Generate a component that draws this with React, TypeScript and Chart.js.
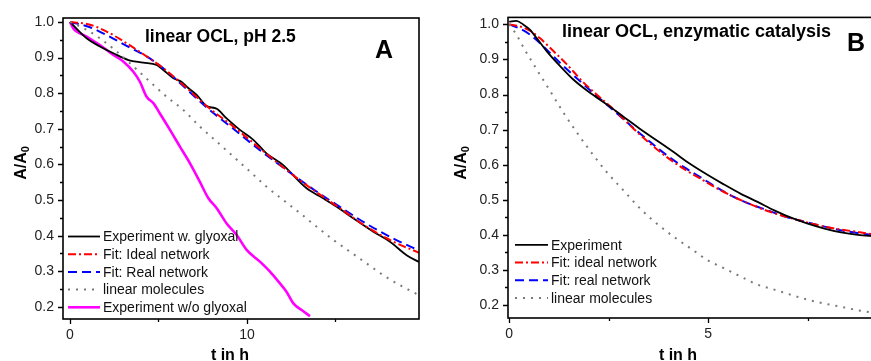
import React, { useEffect, useRef } from 'react';
import { Chart, registerables } from 'chart.js';

Chart.register(...registerables);

// ---------- Panel A: linear OCL, pH 2.5 ----------
const aGlyoxalT = [0, 0.94, 1.69, 2.45, 3.3, 4.14, 4.9, 5.27, 5.84, 6.3, 6.6, 7.16, 7.72, 8.29, 8.85, 9.6, 10.36, 11.1, 12.05, 12.6, 13.37, 14.3, 15.07, 16.0, 17.14, 18.08, 19.02, 19.72];
const aGlyoxalA = [1.0, 0.954, 0.931, 0.912, 0.893, 0.886, 0.879, 0.865, 0.842, 0.832, 0.818, 0.795, 0.764, 0.756, 0.729, 0.697, 0.669, 0.631, 0.598, 0.57, 0.533, 0.505, 0.481, 0.449, 0.411, 0.383, 0.345, 0.326];

const aIdealT = [0, 1.13, 2.07, 3.2, 4.33, 5.27, 6.4, 7.72, 9.23, 10.73, 12.24, 13.75, 15.25, 16.76, 18.27, 19.72];
const aIdealA = [1.0, 0.992, 0.973, 0.94, 0.903, 0.87, 0.823, 0.764, 0.706, 0.645, 0.584, 0.528, 0.477, 0.425, 0.383, 0.352];

const aRealT = [0, 1.13, 2.07, 3.2, 4.33, 5.27, 6.4, 7.72, 9.23, 10.73, 12.24, 13.75, 15.25, 16.76, 18.27, 19.72];
const aRealA = [1.0, 0.985, 0.963, 0.933, 0.903, 0.87, 0.82, 0.76, 0.7, 0.64, 0.584, 0.53, 0.481, 0.433, 0.392, 0.358];

const aLinearT = [0, 0.94, 1.69, 2.64, 3.58, 4.52, 5.46, 6.4, 7.34, 8.29, 9.23, 10.17, 11.11, 12.05, 13.0, 13.94, 14.88, 15.82, 16.76, 17.7, 18.64, 19.72];
const aLinearA = [1.0, 0.978, 0.954, 0.917, 0.875, 0.832, 0.79, 0.753, 0.706, 0.664, 0.622, 0.58, 0.537, 0.5, 0.463, 0.425, 0.388, 0.355, 0.322, 0.289, 0.261, 0.233];

const aNoGlyoxalT = [0, 0.19, 0.94, 1.69, 2.45, 3.01, 3.58, 3.95, 4.33, 4.71, 5.08, 5.65, 6.21, 6.78, 7.34, 7.82, 8.29, 8.85, 9.42, 9.98, 10.73, 11.3, 11.86, 12.24, 12.62, 13.09, 13.56];
const aNoGlyoxalA = [1.0, 0.982, 0.959, 0.935, 0.907, 0.889, 0.86, 0.832, 0.79, 0.772, 0.743, 0.697, 0.65, 0.603, 0.551, 0.505, 0.477, 0.434, 0.402, 0.36, 0.327, 0.299, 0.266, 0.242, 0.21, 0.191, 0.174];

// ---------- Panel B: linear OCL, enzymatic catalysis ----------
const bExpT = [0, 0.18, 0.35, 0.52, 0.69, 0.94, 1.28, 1.61, 2.03, 2.45, 2.87, 3.29, 3.71, 4.13, 4.55, 4.97, 5.39, 5.82, 6.24, 6.66, 7.08, 7.5, 7.92, 8.34, 8.76, 9.19];
const bExpA = [1.008, 1.01, 1.0, 0.985, 0.961, 0.924, 0.881, 0.843, 0.805, 0.772, 0.737, 0.702, 0.669, 0.636, 0.602, 0.572, 0.544, 0.517, 0.494, 0.47, 0.449, 0.432, 0.418, 0.407, 0.4, 0.396];

const bIdealT = [0, 0.27, 0.52, 0.77, 1.11, 1.45, 1.87, 2.29, 2.71, 3.13, 3.55, 3.97, 4.39, 4.81, 5.23, 5.65, 6.07, 6.49, 6.91, 7.33, 7.75, 8.17, 8.59, 9.19];
const bIdealA = [1.0, 0.994, 0.982, 0.961, 0.924, 0.886, 0.834, 0.791, 0.749, 0.702, 0.659, 0.621, 0.588, 0.56, 0.532, 0.508, 0.487, 0.468, 0.453, 0.44, 0.428, 0.418, 0.411, 0.401];

const bRealT = [0, 0.27, 0.52, 0.77, 1.11, 1.45, 1.87, 2.29, 2.71, 3.13, 3.55, 3.97, 4.39, 4.81, 5.23, 5.65, 6.07, 6.49, 6.91, 7.33, 7.75, 8.17, 8.59, 9.19];
const bRealA = [1.0, 0.988, 0.971, 0.947, 0.909, 0.872, 0.829, 0.787, 0.746, 0.704, 0.664, 0.626, 0.593, 0.564, 0.534, 0.508, 0.487, 0.47, 0.453, 0.44, 0.428, 0.417, 0.408, 0.399];

const bLinearT = [0, 0.18, 0.39, 0.69, 1.03, 1.36, 1.7, 2.03, 2.45, 2.87, 3.29, 3.71, 4.13, 4.55, 4.97, 5.39, 5.82, 6.24, 6.66, 7.08, 7.5, 7.92, 8.34, 8.76, 9.19];
const bLinearA = [1.0, 0.971, 0.928, 0.872, 0.81, 0.749, 0.692, 0.64, 0.579, 0.527, 0.475, 0.432, 0.395, 0.362, 0.329, 0.305, 0.281, 0.258, 0.244, 0.229, 0.215, 0.204, 0.195, 0.185, 0.177];

// ---------- Ticks and labels ----------
const yMajorTicks = [0.2, 0.3, 0.4, 0.5, 0.6, 0.7, 0.8, 0.9, 1.0];
const yMinorTicks = [0.25, 0.35, 0.45, 0.55, 0.65, 0.75, 0.85, 0.95];
const aXMajorTicks = [0, 10];
const aXMinorTicks = [5, 15];
const bXMajorTicks = [0, 5];
const bXMinorTicks = [2.5, 7.5];

const aTitle = 'linear OCL, pH 2.5';
const bTitle = 'linear OCL, enzymatic catalysis';
const aLetter = 'A';
const bLetter = 'B';
const xAxisTitle = 't in h';
const yAxisMain = 'A/A';
const yAxisSub = '0';

const aLabels = ['Experiment w. glyoxal', 'Fit: Ideal network', 'Fit: Real network', 'linear molecules', 'Experiment w/o glyoxal'];
const bLabels = ['Experiment', 'Fit: ideal network', 'Fit: real network', 'linear molecules'];

const FONT = '"Liberation Sans", Arial, Helvetica, sans-serif';

type Style = { color: string; width: number; dash: number[] };
const sBlack: Style = { color: '#000000', width: 1.8, dash: [] };
const sRed: Style = { color: '#ff0000', width: 2, dash: [8, 3, 2, 3] };
const sBlue: Style = { color: '#0000ff', width: 2, dash: [9, 5] };
const sGray: Style = { color: '#7a7a7a', width: 2, dash: [2, 6] };
const sMagenta: Style = { color: '#ff00ff', width: 2.6, dash: [] };

function pts(t: number[], a: number[]) {
  return t.map((x, i) => ({ x, y: a[i] }));
}

function ds(label: string, t: number[], a: number[], s: Style) {
  return {
    label,
    data: pts(t, a),
    borderColor: s.color,
    backgroundColor: s.color,
    borderWidth: s.width,
    borderDash: s.dash,
    pointRadius: 0,
    fill: false,
    cubicInterpolationMode: 'monotone' as const,
  };
}

type PanelSpec = {
  left: number;
  width: number;
  yAxisWidth: number;
  xAxisHeight: number;
  padTop: number;
  padRight: number;
  xMin: number;
  xMax: number;
  yMin: number;
  yMax: number;
  xMajor: number[];
  xMinor: number[];
  datasets: any[];
  legendOrder: number[];
  legendLineX0: number;
  legendLineX1: number;
  legendTextX: number;
  legendLastY: number;
  title: string;
  titleX: number;
  titleY: number;
  titleSize: number;
  letter: string;
  letterX: number;
  letterY: number;
  yTitleX: number;
  yTitleY: number;
  xTitleX: number;
  xTitleY: number;
};

const panelA: PanelSpec = {
  left: 0,
  width: 435,
  yAxisWidth: 63,
  xAxisHeight: 42,
  padTop: 18,
  padRight: 16,
  xMin: -0.395,
  xMax: 19.72,
  yMin: 0.166,
  yMax: 1.011,
  xMajor: aXMajorTicks,
  xMinor: aXMinorTicks,
  datasets: [
    ds(aLabels[3], aLinearT, aLinearA, sGray),
    ds(aLabels[1], aIdealT, aIdealA, sRed),
    ds(aLabels[2], aRealT, aRealA, sBlue),
    ds(aLabels[0], aGlyoxalT, aGlyoxalA, sBlack),
    ds(aLabels[4], aNoGlyoxalT, aNoGlyoxalA, sMagenta),
  ],
  legendOrder: [3, 1, 2, 0, 4],
  legendLineX0: 5,
  legendLineX1: 37,
  legendTextX: 40,
  legendLastY: -11.7,
  title: aTitle,
  titleX: 82,
  titleY: 24,
  titleSize: 17.5,
  letter: aLetter,
  letterX: 312,
  letterY: 40,
  yTitleX: -43,
  yTitleY: 163,
  xTitleX: 230,
  xTitleY: 360,
};

const panelB: PanelSpec = {
  left: 440,
  width: 440,
  yAxisWidth: 68,
  xAxisHeight: 43,
  padTop: 16,
  padRight: 5,
  xMin: -0.03,
  xMax: 9.19,
  yMin: 0.163,
  yMax: 1.02,
  xMajor: bXMajorTicks,
  xMinor: bXMinorTicks,
  datasets: [
    ds(bLabels[3], bLinearT, bLinearA, sGray),
    ds(bLabels[0], bExpT, bExpA, sBlack),
    ds(bLabels[1], bIdealT, bIdealA, sRed),
    ds(bLabels[2], bRealT, bRealA, sBlue),
  ],
  legendOrder: [1, 2, 3, 0],
  legendLineX0: 7,
  legendLineX1: 40,
  legendTextX: 43,
  legendLastY: -20,
  title: bTitle,
  titleX: 54,
  titleY: 20,
  titleSize: 18,
  letter: bLetter,
  letterX: 339,
  letterY: 34,
  yTitleX: -48,
  yTitleY: 163,
  xTitleX: 238,
  xTitleY: 360,
};

function makeDecor(spec: PanelSpec) {
  return {
    id: 'decor',
    afterDraw(chart: any) {
      const ctx: CanvasRenderingContext2D = chart.ctx;
      const ca = chart.chartArea;
      const xs = chart.scales.x;
      const ys = chart.scales.y;
      ctx.save();
      // frame
      ctx.strokeStyle = '#000';
      ctx.lineWidth = 1.6;
      ctx.setLineDash([]);
      ctx.strokeRect(ca.left, ca.top, ca.right - ca.left, ca.bottom - ca.top);
      // ticks
      ctx.lineWidth = 1.3;
      ctx.beginPath();
      yMajorTicks.forEach((v) => {
        const y = Math.round(ys.getPixelForValue(v)) + 0.5;
        ctx.moveTo(ca.left - 5, y);
        ctx.lineTo(ca.left, y);
      });
      yMinorTicks.forEach((v) => {
        const y = Math.round(ys.getPixelForValue(v)) + 0.5;
        ctx.moveTo(ca.left - 3, y);
        ctx.lineTo(ca.left, y);
      });
      spec.xMajor.forEach((v) => {
        const x = Math.round(xs.getPixelForValue(v)) + 0.5;
        ctx.moveTo(x, ca.bottom);
        ctx.lineTo(x, ca.bottom + 5);
      });
      spec.xMinor.forEach((v) => {
        const x = Math.round(xs.getPixelForValue(v)) + 0.5;
        ctx.moveTo(x, ca.bottom);
        ctx.lineTo(x, ca.bottom + 3);
      });
      ctx.stroke();

      // legend
      const n = spec.legendOrder.length;
      ctx.font = `14px ${FONT}`;
      ctx.textBaseline = 'middle';
      ctx.textAlign = 'left';
      spec.legendOrder.forEach((di, i) => {
        const d = chart.data.datasets[di];
        const y = ca.bottom + spec.legendLastY - (n - 1 - i) * 17.7;
        ctx.strokeStyle = d.borderColor;
        ctx.lineWidth = d.borderWidth;
        ctx.setLineDash(d.borderDash || []);
        ctx.beginPath();
        ctx.moveTo(ca.left + spec.legendLineX0, y);
        ctx.lineTo(ca.left + spec.legendLineX1, y);
        ctx.stroke();
        ctx.setLineDash([]);
        ctx.fillStyle = '#111';
        ctx.fillText(d.label, ca.left + spec.legendTextX, y + 1);
      });

      // panel title and letter
      ctx.fillStyle = '#000';
      ctx.textBaseline = 'alphabetic';
      ctx.font = `bold ${spec.titleSize}px ${FONT}`;
      ctx.fillText(spec.title, ca.left + spec.titleX, ca.top + spec.titleY);
      ctx.font = `bold 25px ${FONT}`;
      ctx.fillText(spec.letter, ca.left + spec.letterX, ca.top + spec.letterY);

      // x axis title
      ctx.font = `bold 16px ${FONT}`;
      ctx.textAlign = 'center';
      ctx.fillText(xAxisTitle, spec.xTitleX, spec.xTitleY);

      // y axis title with subscript
      ctx.save();
      ctx.translate(ca.left + spec.yTitleX, spec.yTitleY);
      ctx.rotate(-Math.PI / 2);
      ctx.textAlign = 'left';
      ctx.font = `bold 16px ${FONT}`;
      const w1 = ctx.measureText(yAxisMain).width;
      ctx.font = `bold 11px ${FONT}`;
      const w2 = ctx.measureText(yAxisSub).width;
      const x0 = -(w1 + w2) / 2;
      ctx.font = `bold 16px ${FONT}`;
      ctx.fillText(yAxisMain, x0, 6);
      ctx.font = `bold 11px ${FONT}`;
      ctx.fillText(yAxisSub, x0 + w1, 9);
      ctx.restore();

      ctx.restore();
    },
  };
}

function Panel({ spec }: { spec: PanelSpec }) {
  const ref = useRef<HTMLCanvasElement>(null);
  useEffect(() => {
    if (!ref.current) return;
    const chart = new Chart(ref.current, {
      type: 'line',
      data: { datasets: spec.datasets },
      options: {
        animation: false,
        responsive: false,
        maintainAspectRatio: false,
        devicePixelRatio: 1,
        layout: { padding: { left: 0, right: spec.padRight, top: spec.padTop, bottom: 0 } },
        plugins: { legend: { display: false }, tooltip: { enabled: false }, title: { display: false } },
        elements: { point: { radius: 0 } },
        scales: {
          x: {
            type: 'linear',
            min: spec.xMin,
            max: spec.xMax,
            afterFit: (s: any) => {
              s.height = spec.xAxisHeight;
            },
            afterBuildTicks: (s: any) => {
              s.ticks = spec.xMajor.map((v) => ({ value: v }));
            },
            grid: { display: false, drawTicks: false },
            border: { display: false },
            ticks: {
              padding: 8,
              autoSkip: false,
              maxRotation: 0,
              color: '#222',
              font: { family: FONT, size: 14 },
              callback: (v: any) => String(v),
            },
          },
          y: {
            type: 'linear',
            min: spec.yMin,
            max: spec.yMax,
            afterFit: (s: any) => {
              s.width = spec.yAxisWidth;
            },
            afterBuildTicks: (s: any) => {
              s.ticks = yMajorTicks.map((v) => ({ value: v }));
            },
            grid: { display: false, drawTicks: false },
            border: { display: false },
            ticks: {
              padding: 9,
              autoSkip: false,
              color: '#222',
              font: { family: FONT, size: 14 },
              callback: (v: any) => Number(v).toFixed(1),
            },
          },
        },
      },
      plugins: [makeDecor(spec)],
    } as any);
    return () => chart.destroy();
  }, [spec]);
  return (
    <canvas
      ref={ref}
      width={spec.width}
      height={361}
      style={{ position: 'absolute', left: spec.left, top: 0, width: spec.width, height: 361 }}
    />
  );
}

export default function App() {
  return (
    <div
      style={{
        position: 'fixed',
        left: 0,
        top: 0,
        width: 871,
        height: 361,
        overflow: 'hidden',
        background: '#fff',
      }}
    >
      <Panel spec={panelA} />
      <Panel spec={panelB} />
    </div>
  );
}
